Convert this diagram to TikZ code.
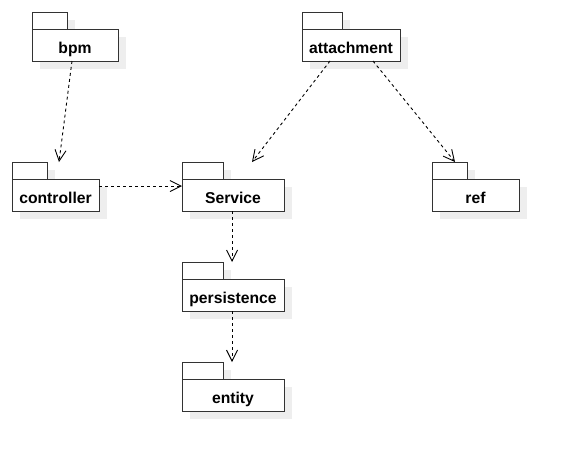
\documentclass[tikz,border=0pt]{standalone}
\usepackage{fontspec}
\setmainfont{Liberation Sans}
\usetikzlibrary{arrows.meta,calc}
\pgfdeclarelayer{background}
\pgfsetlayers{background,main}
\definecolor{shadowc}{HTML}{EEEEEE}
\definecolor{linec}{HTML}{333333}
\tikzset{
  pkgbody/.style={draw=linec, fill=white, line width=1pt, minimum height=32pt,
    inner sep=0pt, outer sep=0pt, text height=17pt, text depth=0pt,
    font=\fontsize{15.7}{18}\selectfont\bfseries},
  pkgtab/.style={draw=linec, fill=white, line width=1pt},
  dep/.style={draw=black, line width=0.9pt, dash pattern=on 3pt off 3pt,
    -{Straight Barb[length=11pt,width=11pt,line width=0.9pt]}}
}
\begin{document}
\begin{tikzpicture}[x=1pt,y=-1pt]
\useasboundingbox (0,0) rectangle (567,461);
% package bodies
\node[pkgbody, minimum width=86pt]  (bpm)  at (75,45)    {bpm};
\node[pkgbody, minimum width=87pt]  (ctrl) at (55.5,195) {controller};
\node[pkgbody, minimum width=102pt] (svc)  at (233,195)  {Service};
\node[pkgbody, minimum width=98pt]  (att)  at (351,45)   {attachment};
\node[pkgbody, minimum width=87pt]  (ref)  at (475.5,195){ref};
\node[pkgbody, minimum width=102pt] (pers) at (233,295)  {persistence};
\node[pkgbody, minimum width=102pt] (ent)  at (233,395)  {entity};
% tabs
\foreach \n/\t in {bpm/35,ctrl/35,svc/41,att/40,ref/35,pers/41,ent/41}{
  \draw[pkgtab] (\n.north west) rectangle ++(\t,-17);
}
% shadows
\begin{pgfonlayer}{background}
\foreach \n/\t in {bpm/35,ctrl/35,svc/41,att/40,ref/35,pers/41,ent/41}{
  \fill[shadowc] ([shift={(8,8)}]\n.south west) rectangle ([shift={(8,8)}]\n.north east);
  \fill[shadowc] ([shift={(8,8)}]\n.north west) rectangle ([shift={(8+\t,8-17)}]\n.north west);
}
\end{pgfonlayer}
% dependencies
\draw[dep] ([xshift=-3pt]bpm.south) -- ([shift={(47,-17)}]ctrl.north west);
\draw[dep] ([yshift=9pt]ctrl.east) -- ([yshift=9pt]svc.west);
\draw[dep] ([xshift=-21pt]att.south) -- ([shift={(70,-17)}]svc.north west);
\draw[dep] ([xshift=22pt]att.south) -- ([shift={(23,-17)}]ref.north west);
\draw[dep] ([xshift=-1pt]svc.south) -- ([shift={(50,-17)}]pers.north west);
\draw[dep] ([xshift=-1pt]pers.south) -- ([shift={(50,-17)}]ent.north west);
\end{tikzpicture}
\end{document}
